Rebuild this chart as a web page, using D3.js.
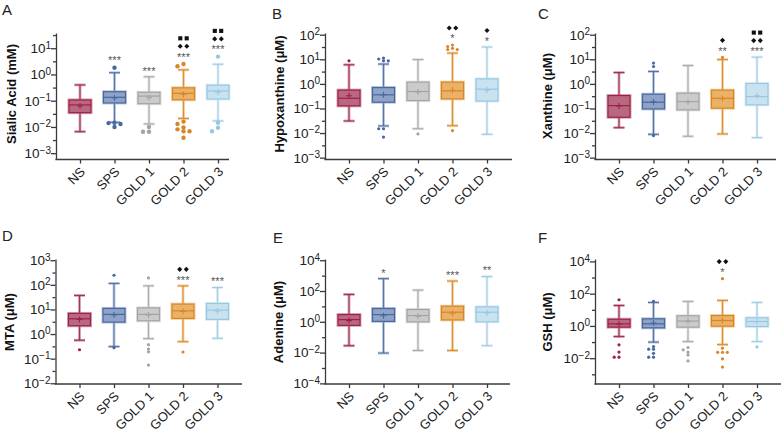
<!DOCTYPE html>
<html><head><meta charset="utf-8">
<script src="https://cdn.jsdelivr.net/npm/d3@7"></script>
<style>body{margin:0;background:#fff} svg{display:block} text{font-family:Arial,"Liberation Sans",Helvetica,sans-serif}</style>
</head><body><svg id="chart" width="781" height="438"></svg>
<script>
// ---------- data ----------
const groups = ["NS", "SPS", "GOLD 1", "GOLD 2", "GOLD 3"];
const panelLetters = ["A", "B", "C", "D", "E", "F"];
const panelTitles = ["Sialic Acid (mM)", "Hypoxanthine (μM)", "Xanthine (μM)", "MTA (μM)", "Adenine (μM)", "GSH (μM)"];
const yDomainExp = [[-3.24, 1.58], [-3.075, 2.07], [-3.075, 2.07], [-2.03, 3.05], [-4.04, 4.08], [-3.6, 4.15]];
const yMajorExp = [[-3, -2, -1, 0, 1], [-3, -2, -1, 0, 1, 2], [-3, -2, -1, 0, 1, 2], [-2, -1, 0, 1, 2, 3], [-4, -2, 0, 2, 4], [-2, 0, 2, 4]];
const yMinorExp = [[-2.5, -1.5, -0.5, 0.5, 1.5], [-2.5, -1.5, -0.5, 0.5, 1.5], [-2.5, -1.5, -0.5, 0.5, 1.5], [-1.5, -0.5, 0.5, 1.5, 2.5], [-3, -1, 1, 3], [-3, -1, 1, 3]];

const sialicAcid = {
  low: [0.0066, 0.015, 0.013, 0.021, 0.017],
  q1: [0.035, 0.082, 0.077, 0.109, 0.116],
  median: [0.069, 0.135, 0.15, 0.19, 0.234],
  q3: [0.107, 0.22, 0.21, 0.31, 0.39],
  high: [0.40, 1.17, 0.82, 1.5, 2.45],
  mean: [0.063, 0.127, 0.13, 0.176, 0.21],
  outliers: [[], [1.8, 0.010, 0.0145, 0.013, 0.014], [0.0099, 0.0066, 0.0066], [2.05, 2.5, 0.0096, 0.016, 0.013, 0.0069, 0.0069, 0.0081, 0.0039], [4.8, 0.0145, 0.0069, 0.0093]],
  stars: ["", "***", "***", "***", "***"], diamonds: [0, 0, 0, 2, 2], squares: [0, 0, 0, 2, 2]
};
const hypoxanthine = {
  low: [0.031, 0.0195, 0.015, 0.020, 0.0089],
  q1: [0.128, 0.18, 0.21, 0.246, 0.20],
  median: [0.26, 0.36, 0.49, 0.52, 0.61],
  q3: [0.56, 0.71, 1.18, 1.18, 1.6],
  high: [6.0, 6.4, 9.8, 17.9, 31.6],
  mean: [0.33, 0.36, 0.47, 0.55, 0.56],
  outliers: [[8.7], [11.2, 10.3, 8.7, 8.7, 0.015, 0.015, 0.0069], [0.0092], [38, 33, 28, 25, 25, 0.0126], []],
  stars: ["", "", "", "*", "*"], diamonds: [0, 0, 0, 2, 1], squares: [0, 0, 0, 0, 0]
};
const xanthine = {
  low: [0.0166, 0.0089, 0.0074, 0.0092, 0.0065],
  q1: [0.044, 0.096, 0.088, 0.103, 0.14],
  median: [0.131, 0.18, 0.19, 0.26, 0.305],
  q3: [0.336, 0.38, 0.42, 0.556, 1.04],
  high: [2.9, 3.2, 5.6, 9.8, 12.3],
  mean: [0.127, 0.185, 0.19, 0.25, 0.33],
  outliers: [[], [7.0, 5.1, 0.0079], [], [11.9], []],
  stars: ["", "", "", "**", "***"], diamonds: [0, 0, 0, 1, 2], squares: [0, 0, 0, 0, 2]
};
const mta = {
  low: [0.56, 0.31, 0.65, 0.49, 0.67],
  q1: [2.17, 3.06, 3.46, 4.33, 3.95],
  median: [4.17, 6.3, 6.3, 8.8, 9.4],
  q3: [6.9, 11, 11.6, 16.5, 17.5],
  high: [37, 114, 91, 91, 78],
  mean: [3.9, 6.0, 6.0, 8.3, 8.6],
  outliers: [[0.23], [245, 0.28], [191, 0.37, 0.246, 0.19, 0.055], [0.186], []],
  stars: ["", "", "", "***", "***"], diamonds: [0, 0, 0, 2, 0], squares: [0, 0, 0, 0, 0]
};
const adenine = {
  low: [0.028, 0.0093, 0.0137, 0.0137, 0.028],
  q1: [0.59, 1.07, 1.0, 1.33, 1.0],
  median: [1.39, 2.95, 2.55, 4.2, 4.2],
  q3: [2.95, 7.3, 6.3, 10.3, 9.4],
  high: [60, 640, 115, 445, 870],
  mean: [1.2, 2.5, 2.3, 3.6, 3.8],
  outliers: [[], [], [], [], []],
  stars: ["", "*", "", "***", "**"], diamonds: [0, 0, 0, 0, 0], squares: [0, 0, 0, 0, 0]
};
const gsh = {
  low: [0.22, 0.099, 0.107, 0.07, 0.107],
  q1: [0.84, 0.76, 0.84, 0.97, 0.92],
  median: [1.35, 1.35, 1.98, 2.16, 1.88],
  q3: [2.6, 2.76, 4.25, 4.4, 3.2],
  high: [18.5, 28.5, 33, 38, 28.5],
  mean: [1.35, 1.5, 2.0, 2.2, 1.9],
  outliers: [[42, 0.067, 0.024, 0.0115, 0.0115], [33, 0.053, 0.036, 0.036, 0.020, 0.0115, 0.0115], [0.046, 0.033, 0.024, 0.016, 0.0068], [850, 0.042, 0.023, 0.023, 0.023, 0.0091, 0.0028], [0.05]],
  stars: ["", "", "", "*", ""], diamonds: [0, 0, 0, 2, 0], squares: [0, 0, 0, 0, 0]
};
const panelData = [sialicAcid, hypoxanthine, xanthine, mta, adenine, gsh];

// ---------- style / layout ----------
const strokeColors = ["#9e1f4a", "#46699f", "#a3a3a3", "#d9862a", "#96c8e2"];
const fillColors = ["#b8697f", "#8fa2c7", "#cbcbcb", "#e9b266", "#c9e2f0"];
const layout = [
  {x0: 56, xEnd: 229, yTop: 33, yBot: 159.5, lx: 2, ly: 15, tx: 11, ty: 94, r: 2.2},
  {x0: 325, xEnd: 512, yTop: 33, yBot: 159.5, lx: 272, ly: 19, tx: 279, ty: 94, r: 1.6},
  {x0: 595, xEnd: 776, yTop: 33, yBot: 159.5, lx: 538, ly: 19, tx: 547, ty: 96, r: 1.6},
  {x0: 55.5, xEnd: 242, yTop: 259, yBot: 384, lx: 2, ly: 241, tx: 9, ty: 322, r: 1.6},
  {x0: 325, xEnd: 510, yTop: 259, yBot: 384, lx: 273, ly: 243, tx: 278, ty: 322, r: 1.6},
  {x0: 595, xEnd: 781, yTop: 259, yBot: 384, lx: 538, ly: 243, tx: 547, ty: 322, r: 1.6}
];
const axisColor = "#3a3a3a";

const svg = d3.select("#chart");

function dodge(vals, cx, y, r) {
  const placed = [];
  const step = 2 * r + 1.6;
  vals.slice().sort((a, b) => b - a).forEach(v => {
    const py = y(v);
    for (let k = 0; k < 30; k++) {
      const off = (k % 2 ? -1 : 1) * Math.ceil(k / 2) * step;
      const px = cx + off;
      const hit = placed.some(p => Math.abs(p.x - px) < step * 0.9 && Math.abs(p.y - py) < 2 * r * 0.8);
      if (!hit) { placed.push({x: px, y: py, v}); break; }
    }
  });
  return placed;
}

panelData.forEach((P, k) => {
  const L = layout[k];
  const g = svg.append("g");
  const y = d3.scaleLog().domain([10 ** yDomainExp[k][0], 10 ** yDomainExp[k][1]]).range([L.yBot, L.yTop]);
  const x = d3.scalePoint().domain(groups).range([L.x0 + 24, L.x0 + 24 + 4 * 34.5]);

  // panel letter
  g.append("text").attr("x", L.lx).attr("y", L.ly).attr("font-size", 15).attr("fill", "#222").text(panelLetters[k]);
  // y title
  g.append("text").attr("transform", `translate(${L.tx},${L.ty}) rotate(-90)`).attr("text-anchor", "middle")
    .attr("dy", "0.36em").attr("font-size", 13).attr("font-weight", "bold").attr("fill", "#111").text(panelTitles[k]);

  // y axis
  const ya = g.append("g").attr("transform", `translate(${L.x0},0)`)
    .call(d3.axisLeft(y).tickValues(yMajorExp[k].map(e => 10 ** e)).tickSize(5).tickSizeOuter(0).tickFormat(""));
  const ym = g.append("g").attr("transform", `translate(${L.x0},0)`)
    .call(d3.axisLeft(y).tickValues(yMinorExp[k].map(e => 10 ** e)).tickSize(3).tickSizeOuter(0).tickFormat(""));
  ym.select(".domain").remove();
  [ya, ym].forEach(a => { a.selectAll("path,line").attr("stroke", axisColor).attr("stroke-width", 1.3); });
  yMajorExp[k].forEach(e => {
    const t = g.append("text").attr("x", L.x0 - 5).attr("y", y(10 ** e)).attr("dy", "0.36em")
      .attr("text-anchor", "end").attr("font-size", 13.5).attr("fill", "#222").text("10");
    t.append("tspan").attr("dy", "-0.45em").attr("font-size", 10).text(e < 0 ? "−" + (-e) : String(e));
  });

  // x axis
  const xa = g.append("g").attr("transform", `translate(0,${L.yBot})`)
    .call(d3.axisBottom(x).tickSize(4).tickSizeOuter(0).tickFormat(""));
  xa.select(".domain").remove();
  xa.selectAll("line").attr("stroke", axisColor).attr("stroke-width", 1.3);
  g.append("line").attr("x1", L.x0 - 0.6).attr("x2", L.xEnd).attr("y1", L.yBot).attr("y2", L.yBot)
    .attr("stroke", axisColor).attr("stroke-width", 1.3);
  groups.forEach(grp => {
    g.append("text").attr("transform", `translate(${x(grp) + 6},${L.yBot + 13}) rotate(-45)`)
      .attr("text-anchor", "end").attr("font-size", 13).attr("fill", "#222").text(grp);
  });

  // boxes
  groups.forEach((grp, i) => {
    const cx = x(grp), sc = strokeColors[i], fc = fillColors[i];
    const hw = 11, cw = 5.5;
    const yLo = y(P.low[i]), yHi = y(P.high[i]), yQ1 = y(P.q1[i]), yQ3 = y(P.q3[i]), yMed = y(P.median[i]), yMean = y(P.mean[i]);
    const segs = [[cx, yHi, cx, yQ3], [cx, yQ1, cx, yLo], [cx - cw, yHi, cx + cw, yHi], [cx - cw, yLo, cx + cw, yLo]];
    segs.forEach(s => {
      g.append("line").attr("x1", s[0]).attr("y1", s[1]).attr("x2", s[2]).attr("y2", s[3])
        .attr("stroke", fc).attr("stroke-opacity", 0.6).attr("stroke-width", 2.8);
    });
    segs.forEach(s => {
      g.append("line").attr("x1", s[0]).attr("y1", s[1]).attr("x2", s[2]).attr("y2", s[3])
        .attr("stroke", sc).attr("stroke-opacity", 0.85).attr("stroke-width", 1.1);
    });
    g.append("rect").attr("x", cx - hw).attr("y", yQ3).attr("width", 2 * hw).attr("height", yQ1 - yQ3)
      .attr("fill", fc).attr("stroke", fc).attr("stroke-width", 3).attr("stroke-opacity", 0.6);
    g.append("rect").attr("x", cx - hw).attr("y", yQ3).attr("width", 2 * hw).attr("height", yQ1 - yQ3)
      .attr("fill", "none").attr("stroke", sc).attr("stroke-width", 1.2);
    g.append("line").attr("x1", cx - hw).attr("x2", cx + hw).attr("y1", yMed).attr("y2", yMed)
      .attr("stroke", sc).attr("stroke-width", 1.2);
    g.append("path").attr("d", `M${cx - 3},${yMean}H${cx + 3}M${cx},${yMean - 3}V${yMean + 3}`)
      .attr("stroke", sc).attr("stroke-width", 1.1).attr("fill", "none");

    // outliers
    dodge(P.outliers[i], cx, y, L.r).forEach(p => {
      g.append("circle").attr("cx", p.x).attr("cy", p.y).attr("r", L.r).attr("fill", sc);
    });

    // significance markers
    let top = yHi;
    P.outliers[i].forEach(v => { top = Math.min(top, y(v) - L.r + 1); });
    let cy = top - 8.5;
    if (P.stars[i]) {
      g.append("text").attr("x", cx).attr("y", cy + 6.4).attr("text-anchor", "middle")
        .attr("font-size", 11).attr("fill", "#555").text(P.stars[i]);
      cy -= 8;
    }
    if (P.diamonds[i]) {
      const n = P.diamonds[i];
      for (let j = 0; j < n; j++) {
        g.append("path").attr("d", d3.symbol(d3.symbolSquare, 13)())
          .attr("transform", `translate(${cx + (j - (n - 1) / 2) * 6.6},${cy}) rotate(45)`).attr("fill", "#111");
      }
      cy -= 8;
    }
    if (P.squares[i]) {
      const n = P.squares[i];
      for (let j = 0; j < n; j++) {
        g.append("path").attr("d", d3.symbol(d3.symbolSquare, 17)())
          .attr("transform", `translate(${cx + (j - (n - 1) / 2) * 6.4},${cy})`).attr("fill", "#111");
      }
    }
  });
});
</script></body></html>
